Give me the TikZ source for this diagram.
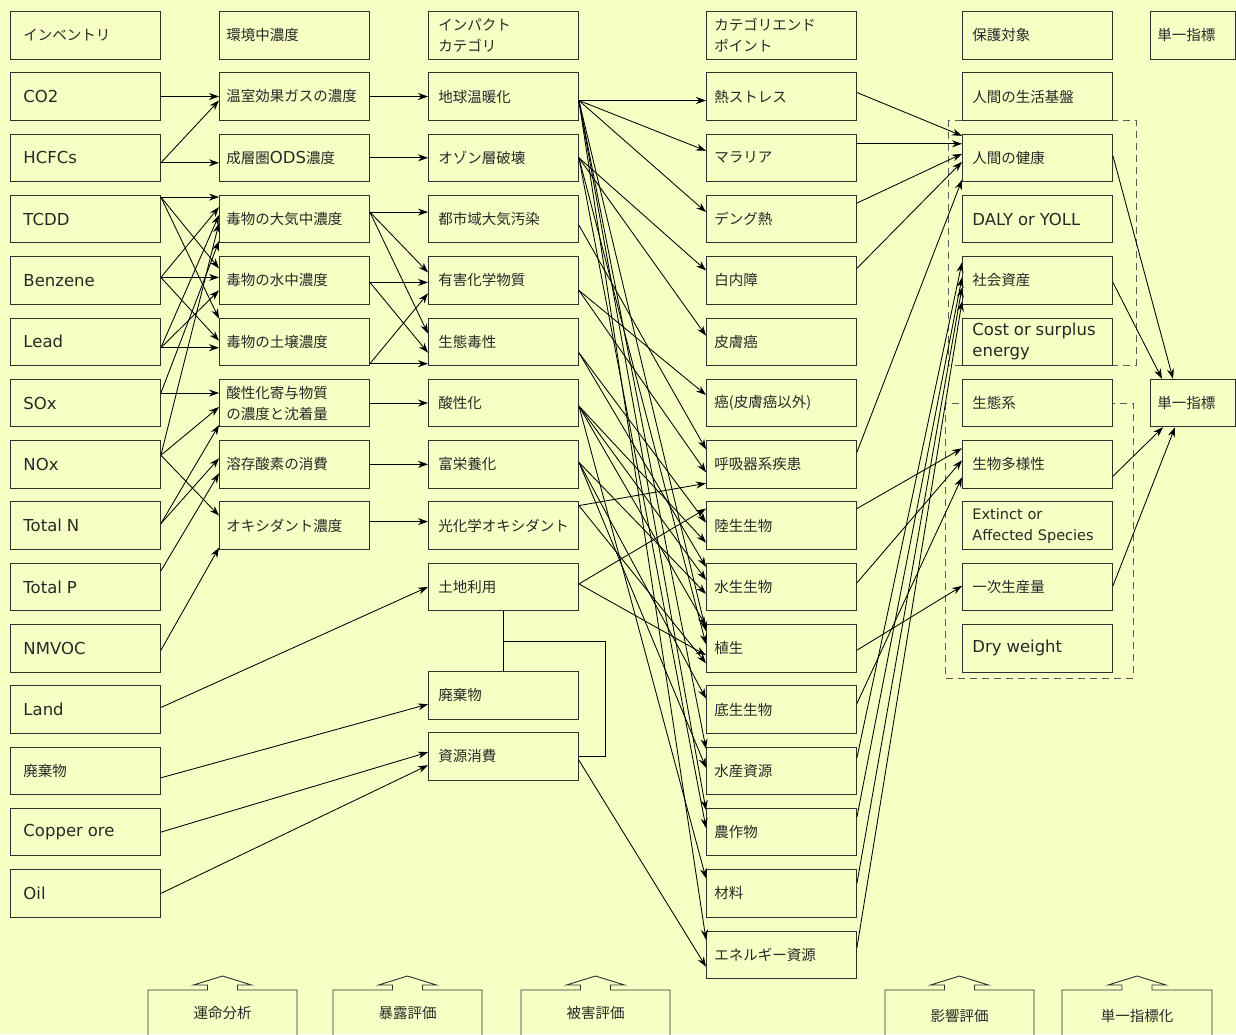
\documentclass[tikz,border=0pt]{standalone}
\usepackage{fontspec}
\setmainfont{Noto Sans CJK JP}
\newfontfamily\latf{DejaVu Sans}
\usetikzlibrary{arrows.meta,calc}
\definecolor{bg}{RGB}{246,255,196}
\definecolor{bc}{RGB}{48,48,48}
\definecolor{tc}{RGB}{40,40,40}
\newcommand{\jp}{\fontsize{14.5}{21}\selectfont}
\newcommand{\Lat}[1]{{\latf\fontsize{16.5}{21}\selectfont #1}}
\newcommand{\LatS}{\latf\fontsize{14.5}{21}\selectfont}
\newcommand{\conx}[4]{\draw[arr] ($(#1.east)+(0,#2)$) -- ($(#3.west)+(0,#4)$);}
\tikzset{
  box/.style={draw=bc, fill=bg, line width=0.9pt, minimum height=47.5pt, anchor=north west, align=left, inner ysep=0pt, font=\jp, text=tc},
  bA/.style={box, inner xsep=13pt, text width=124pt},
  bB/.style={box, inner xsep=7pt, text width=136pt},
  bC/.style={box, inner xsep=10pt, text width=130pt},
  bD/.style={box, inner xsep=8pt, text width=134pt},
  bE/.style={box, inner xsep=10pt, text width=130pt},
  bF/.style={box, inner xsep=7pt, text width=71pt},
  arr/.style={draw=black, line width=0.85pt, -{Stealth[length=10pt,width=7pt]}},
  grp/.style={draw=bc!80, line width=1pt, dash pattern=on 7pt off 5pt},
  stagebox/.style={draw=bc, line width=0.9pt},
  stagetxt/.style={font=\jp, text=tc, inner sep=0pt}
}
\begin{document}
\begin{tikzpicture}[x=1pt,y=-1pt]
\useasboundingbox (0,0) rectangle (1236,1034);
\fill[bg] (0,0) rectangle (1236,1034);

% dashed groups
\draw[grp] (948,120) rectangle (1136,365);
\draw[grp] (945,403) rectangle (1133,678);

% column 1
\node[bA] (h1)     at (10,11)    {インベントリ};
\node[bA] (co2)    at (10,72.3)  {\Lat{CO2}};
\node[bA] (hcfc)   at (10,133.6) {\Lat{HCFCs}};
\node[bA] (tcdd)   at (10,194.9) {\Lat{TCDD}};
\node[bA] (benz)   at (10,256.2) {\Lat{Benzene}};
\node[bA] (lead)   at (10,317.5) {\Lat{Lead}};
\node[bA] (sox)    at (10,378.8) {\Lat{SOx}};
\node[bA] (nox)    at (10,440.1) {\Lat{NOx}};
\node[bA] (totn)   at (10,501.4) {\Lat{Total N}};
\node[bA] (totp)   at (10,562.7) {\Lat{Total P}};
\node[bA] (nmvoc)  at (10,624)   {\Lat{NMVOC}};
\node[bA] (land)   at (10,685.3) {\Lat{Land}};
\node[bA] (waste)  at (10,746.6) {廃棄物};
\node[bA] (copper) at (10,807.9) {\Lat{Copper ore}};
\node[bA] (oil)    at (10,869.2) {\Lat{Oil}};

% column 2
\node[bB] (h2)    at (219,11)    {環境中濃度};
\node[bB] (onc)   at (219,72.3)  {温室効果ガスの濃度};
\node[bB] (ods)   at (219,133.6) {成層圏\Lat{ODS}濃度};
\node[bB] (air)   at (219,194.9) {毒物の大気中濃度};
\node[bB] (water) at (219,256.2) {毒物の水中濃度};
\node[bB] (soil)  at (219,317.5) {毒物の土壌濃度};
\node[bB] (acid)  at (219,378.8) {酸性化寄与物質\\の濃度と沈着量};
\node[bB] (dox)   at (219,440.1) {溶存酸素の消費};
\node[bB] (oxi)   at (219,501.4) {オキシダント濃度};

% column 3
\node[bC] (h3)    at (428,11)    {インパクト\\カテゴリ};
\node[bC] (gw)    at (428,72.3)  {地球温暖化};
\node[bC] (oz)    at (428,133.6) {オゾン層破壊};
\node[bC] (urban) at (428,194.9) {都市域大気汚染};
\node[bC] (toxic) at (428,256.2) {有害化学物質};
\node[bC] (eco)   at (428,317.5) {生態毒性};
\node[bC] (acd)   at (428,378.8) {酸性化};
\node[bC] (eut)   at (428,440.1) {富栄養化};
\node[bC] (pho)   at (428,501.4) {光化学オキシダント};
\node[bC] (lu)    at (428,562.7) {土地利用};
\node[bC] (wst3)  at (428,671)   {廃棄物};
\node[bC] (res)   at (428,732)   {資源消費};

% column 4
\node[bD] (h4)    at (706,11)    {カテゴリエンド\\ポイント};
\node[bD] (heat)  at (706,72.3)  {熱ストレス};
\node[bD] (mal)   at (706,133.6) {マラリア};
\node[bD] (den)   at (706,194.9) {デング熱};
\node[bD] (cat)   at (706,256.2) {白内障};
\node[bD] (skin)  at (706,317.5) {皮膚癌};
\node[bD] (canc)  at (706,378.8) {癌(皮膚癌以外)};
\node[bD] (resp)  at (706,440.1) {呼吸器系疾患};
\node[bD] (terr)  at (706,501.4) {陸生生物};
\node[bD] (aqua)  at (706,562.7) {水生生物};
\node[bD] (veg)   at (706,624)   {植生};
\node[bD] (benth) at (706,685.3) {底生生物};
\node[bD] (fish)  at (706,746.6) {水産資源};
\node[bD] (crop)  at (706,807.9) {農作物};
\node[bD] (mat)   at (706,869.2) {材料};
\node[bD] (ene)   at (706,930.5) {エネルギー資源};

% column 5
\node[bE] (h5)    at (962,11)    {保護対象};
\node[bE] (life)  at (962,72.3)  {人間の生活基盤};
\node[bE] (hh)    at (962,133.6) {人間の健康};
\node[bE] (daly)  at (962,194.9) {\Lat{DALY or YOLL}};
\node[bE] (soc)   at (962,256.2) {社会資産};
\node[bE] (cost)  at (962,317.5) {\Lat{Cost or surplus}\\\Lat{energy}};
\node[bE] (ecos)  at (962,378.8) {生態系};
\node[bE] (bio)   at (962,440.1) {生物多様性};
\node[bE] (ext)   at (962,501.4) {{\LatS Extinct or\\Affected Species}};
\node[bE] (npp)   at (962,562.7) {一次生産量};
\node[bE] (dry)   at (962,624)   {\Lat{Dry weight}};

% column 6
\node[bF] (h6)  at (1150,11)    {単一指標};
\node[bF] (sgl) at (1150,378.8) {単一指標};

% col1 -> col2
\conx{co2}{0}{onc}{0}
\conx{hcfc}{5}{onc}{4}
\conx{hcfc}{5}{ods}{5}
\conx{tcdd}{-22}{air}{-22}
\conx{tcdd}{-22}{water}{-12}
\conx{tcdd}{-22}{soil}{-23}
\conx{benz}{-3}{air}{-12}
\conx{benz}{-3}{water}{-3}
\conx{benz}{-3}{soil}{-1}
\conx{lead}{6}{air}{-4}
\conx{lead}{6}{water}{10}
\conx{lead}{6}{soil}{6}
\conx{sox}{-10}{air}{22}
\conx{sox}{-10}{acid}{-10}
\conx{nox}{-9}{air}{4}
\conx{nox}{-9}{acid}{4}
\conx{nox}{-9}{oxi}{-10}
\conx{totn}{-2}{acid}{22}
\conx{totn}{-2}{dox}{-6}
\conx{totp}{-16}{dox}{9}
\conx{nmvoc}{2}{oxi}{22}

% col1 -> col3
\conx{land}{-2}{lu}{0}
\conx{waste}{7}{wst3}{9}
\conx{copper}{0}{res}{-4}
\conx{oil}{0}{res}{9}

% col2 -> col3
\conx{onc}{0}{gw}{0}
\conx{ods}{0}{oz}{0}
\conx{air}{-7}{urban}{-7}
\conx{air}{-7}{toxic}{-8}
\conx{air}{-7}{eco}{-8}
\conx{water}{2}{toxic}{2}
\conx{water}{2}{eco}{11}
\conx{soil}{22}{toxic}{13}
\conx{soil}{22}{eco}{22}
\conx{acid}{0}{acd}{0}
\conx{dox}{0}{eut}{0}
\conx{oxi}{-4}{pho}{-4}

% land use bracket
\draw[line width=0.85pt] (lu.south) -- (wst3.north)
  ($(lu.south)+(0,30)$) -| ($(res.east)+(27,0)$) -- (res.east);

% col3 -> col4
\conx{gw}{4}{heat}{4}
\conx{gw}{4}{mal}{-7}
\conx{gw}{4}{den}{-7}
\conx{gw}{4}{veg}{-17}
\conx{gw}{4}{fish}{-22}
\conx{gw}{4}{crop}{-22}
\conx{gw}{4}{ene}{-15}
\conx{oz}{0}{cat}{-10}
\conx{oz}{0}{skin}{-6}
\conx{oz}{0}{veg}{-4}
\conx{oz}{0}{crop}{-4}
\conx{urban}{6}{resp}{-15}
\conx{toxic}{10}{canc}{-8}
\conx{toxic}{10}{resp}{8}
\conx{eco}{11}{terr}{-3}
\conx{eco}{11}{aqua}{-20}
\conx{acd}{3}{terr}{17}
\conx{acd}{3}{aqua}{-7}
\conx{acd}{3}{veg}{-22}
\conx{acd}{3}{mat}{-15}
\conx{eut}{-2}{aqua}{7}
\conx{eut}{-2}{benth}{-11}
\conx{eut}{-2}{fish}{-3}
\conx{pho}{-20}{resp}{19}
\conx{pho}{-20}{veg}{15}
\conx{lu}{-3}{terr}{-17}
\conx{lu}{-3}{veg}{7}
\conx{res}{4}{ene}{12}

% col4 -> col5
\conx{heat}{-4}{hh}{-22}
\conx{mal}{-14}{hh}{-14}
\conx{den}{-16}{hh}{-4}
\conx{cat}{-12}{hh}{4}
\conx{resp}{-12}{hh}{22}
\conx{terr}{-17}{bio}{-16}
\conx{aqua}{-4}{bio}{-4}
\conx{benth}{-6}{bio}{13}
\conx{veg}{2}{npp}{-1}
\conx{fish}{-13}{soc}{-18}
\conx{crop}{-15}{soc}{-3}
\conx{mat}{-10}{soc}{7}
\conx{ene}{-7}{soc}{21}

% col5 -> col6
\draw[arr] ($(hh.east)+(0,-2)$) -- ($(sgl.north west)+(23,0)$);
\draw[arr] ($(soc.east)+(0,2)$) -- ($(sgl.north west)+(12,0)$);
\draw[arr] ($(bio.east)+(0,12)$) -- ($(sgl.south west)+(13,0)$);
\draw[arr] ($(npp.east)+(0,-1)$) -- ($(sgl.south west)+(25,0)$);

% bottom stage boxes
\foreach \xa/\xb in {148/297, 333/482, 521/670, 885/1034, 1062/1212}{
  \pgfmathsetmacro{\cx}{(\xa+\xb)/2}
  \draw[stagebox] (\xa,1045) -- (\xa,990) -- (\cx-15,990) -- (\cx-15,985) -- (\cx-29,985)
    -- (\cx,976) -- (\cx+29,985) -- (\cx+15,985) -- (\cx+15,990) -- (\xb,990) -- (\xb,1045);
}
\node[stagetxt] (s1) at (222.5,1013) {運命分析};
\node[stagetxt] (s2) at (407.5,1013) {暴露評価};
\node[stagetxt] (s3) at (595.5,1013) {被害評価};
\node[stagetxt] (s4) at (959.5,1016) {影響評価};
\node[stagetxt] (s5) at (1137,1016) {単一指標化};
\end{tikzpicture}
\end{document}
